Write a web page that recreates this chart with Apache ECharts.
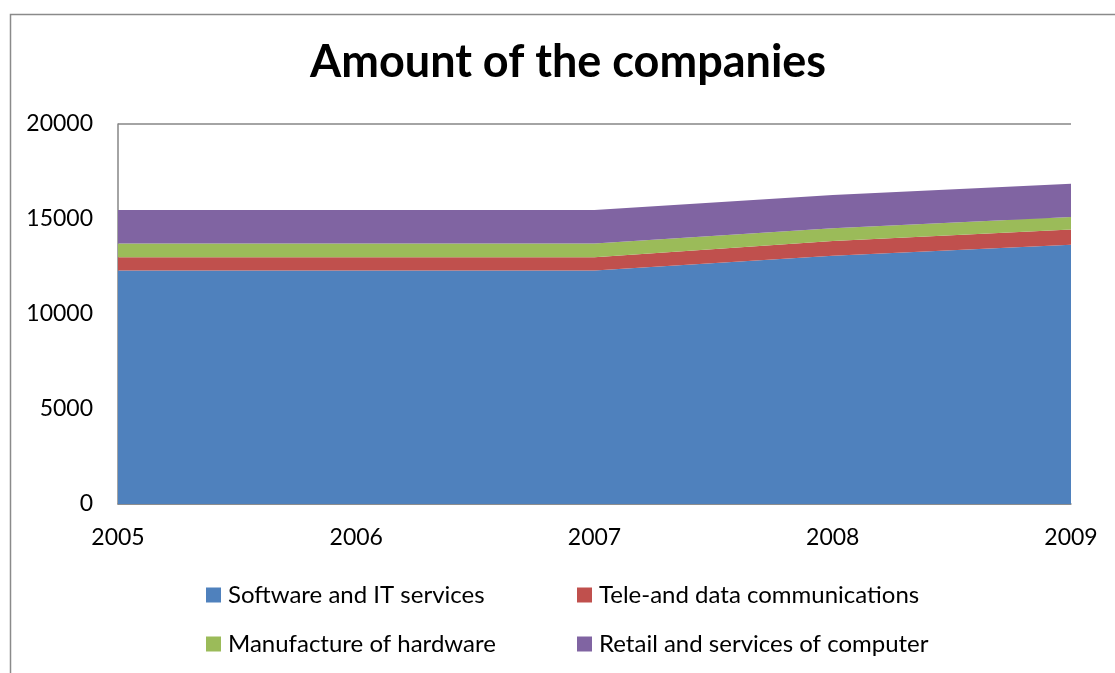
<!DOCTYPE html>
<html>
<head>
<meta charset="utf-8">
<title>Amount of the companies</title>
<script src="https://cdn.jsdelivr.net/npm/echarts@6/dist/echarts.min.js"></script>
<style>
  html, body { margin: 0; padding: 0; background: #ffffff; }
  #chart { width: 1115px; height: 673px; }
</style>
</head>
<body>
<div id="chart"></div>
<script>
// Number of companies by industry, stacked
const years = ['2005', '2006', '2007', '2008', '2009'];
const software = [12290, 12290, 12290, 13070, 13650];
const telecom = [700, 700, 700, 770, 800];
const hardware = [720, 720, 720, 670, 650];
const retail = [1770, 1770, 1770, 1750, 1760];

const seriesNames = [
  'Software and IT services',
  'Tele-and data communications',
  'Manufacture of hardware',
  'Retail and services of computer'
];
const seriesValues = [software, telecom, hardware, retail];
const seriesColors = ['#4F81BD', '#C0504D', '#9BBB59', '#8064A2'];

const FONT = 'Lato, "Open Sans", sans-serif';

const chart = echarts.init(document.getElementById('chart'), null, { renderer: 'canvas' });

const legendText = { fontFamily: FONT, fontSize: 24, lineHeight: 24, color: '#000', padding: [0, 0, 0, 2] };

const legendCommon = {
  orient: 'vertical',
  top: 583,
  padding: 0,
  itemWidth: 15,
  itemHeight: 15,
  itemGap: 25,
  icon: 'rect',
  textStyle: legendText
};

chart.setOption({
  backgroundColor: '#ffffff',
  animation: false,
  title: {
    text: 'Amount of the companies',
    left: 305,
    top: 35,
    textStyle: { fontFamily: FONT, fontSize: 45, fontWeight: 'bold', color: '#000' }
  },
  grid: { left: 118, right: 44, top: 124, bottom: 169, containLabel: false },
  legend: [
    Object.assign({ left: 206, data: [seriesNames[0], seriesNames[2]] }, legendCommon),
    Object.assign({ left: 577, data: [seriesNames[1], seriesNames[3]] }, legendCommon)
  ],
  xAxis: {
    type: 'category',
    data: years,
    boundaryGap: false,
    axisLine: { lineStyle: { color: '#868686', width: 1.5 } },
    axisTick: { show: false },
    axisLabel: { fontFamily: FONT, fontSize: 23, color: '#000', margin: 22 },
    splitLine: { show: false }
  },
  yAxis: {
    type: 'value',
    min: 0,
    max: 20000,
    interval: 5000,
    axisLine: { show: true, lineStyle: { color: '#868686', width: 1.5 } },
    axisTick: { show: false },
    axisLabel: {
      fontFamily: FONT, fontSize: 23, color: '#000', margin: 25,
      formatter: (v) => String(v)
    },
    splitLine: { show: true, lineStyle: { color: '#868686', width: 1.5 } }
  },
  graphic: [
    {
      type: 'rect',
      left: 8,
      top: 12,
      shape: { width: 1200, height: 800 },
      style: { fill: 'none', stroke: '#8a8a8a', lineWidth: 1.5 },
      silent: true,
      z: -1
    }
  ],
  series: seriesNames.map((name, i) => ({
    name: name,
    type: 'line',
    stack: 'total',
    data: seriesValues[i],
    symbol: 'none',
    showSymbol: false,
    color: seriesColors[i],
    lineStyle: { width: 0 },
    areaStyle: { color: seriesColors[i], opacity: 1 },
    z: 2
  }))
});
</script>
</body>
</html>
